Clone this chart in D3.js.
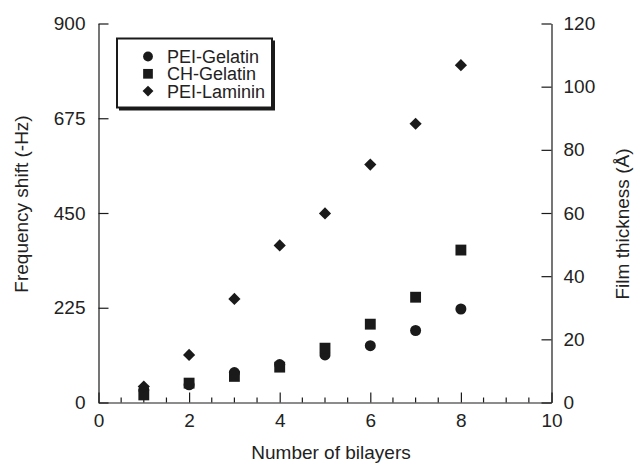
<!DOCTYPE html>
<html><head><meta charset="utf-8">
<script src="https://cdn.jsdelivr.net/npm/d3@7"></script>
<style>body{margin:0;background:#fff}svg{display:block}text{font-family:"Liberation Sans",Arial,sans-serif;fill:#222}</style>
</head><body><svg id="c" width="634" height="467"></svg>
<script>
const bilayers = [1,2,3,4,5,6,7,8];
const peiGelatin = [30,42,71,90,113,135,171,222];
const chGelatin = [18,46,62,84,129,186,250,362];
const peiLaminin = [38,113,246,373,449,565,662,801];
const xTicks = [0,2,4,6,8,10];
const yLeftTicks = [0,225,450,675,900];
const yRightTicks = [0,20,40,60,80,100,120];
const seriesNames = ["PEI-Gelatin","CH-Gelatin","PEI-Laminin"];

const svg = d3.select("#c");
const x = d3.scaleLinear().domain([0,10]).range([98.5,551.5]);
const y = d3.scaleLinear().domain([0,900]).range([402.5,23.5]);
const yR = d3.scaleLinear().domain([0,120]).range([402.5,23.5]);
const col = "#1a1a1a";
const FS = 19;

const gx = svg.append("g").attr("transform","translate(0,402.5)")
  .call(d3.axisBottom(x).tickValues(xTicks).tickSize(-10).tickPadding(11).tickSizeOuter(0));
gx.append("g").selectAll("line").data(d3.range(0,10.01,0.5).filter(v=>v%2!==0))
  .join("line").attr("x1",d=>x(d)).attr("x2",d=>x(d)).attr("y1",0).attr("y2",-5).attr("stroke",col);
const gl = svg.append("g").attr("transform","translate(98.5,0)")
  .call(d3.axisLeft(y).tickValues(yLeftTicks).tickSize(-10).tickPadding(13).tickSizeOuter(0));
const gr = svg.append("g").attr("transform","translate(551.5,0)")
  .call(d3.axisRight(yR).tickValues(yRightTicks).tickSize(-10).tickPadding(12).tickSizeOuter(0));
[gx,gl,gr].forEach(g=>{
  g.selectAll("path,line").attr("stroke",col).attr("stroke-width",1.2);
  g.selectAll("text").attr("font-size",FS).style("font-family","Liberation Sans, Arial, sans-serif").attr("fill","#222");
});
gx.selectAll(".tick text").attr("dy","0.71em");

svg.append("text").attr("x",331).attr("y",459).attr("text-anchor","middle").attr("font-size",FS).text("Number of bilayers");
svg.append("text").attr("transform","translate(28,204) rotate(-90)").attr("text-anchor","middle").attr("font-size",FS).text("Frequency shift (-Hz)");
svg.append("text").attr("transform","translate(629,224) rotate(-90)").attr("text-anchor","middle").attr("font-size",FS).text("Film thickness (Å)");

const sym = [d3.symbolCircle, d3.symbolSquare, d3.symbolSquare];
const sizes = [95, 118, 74];
const rot = [0,0,45];
const data = [peiGelatin, chGelatin, peiLaminin];
data.forEach((vals,i)=>{
  svg.append("g").selectAll("path").data(bilayers)
    .join("path")
    .attr("d", d3.symbol().type(sym[i]).size(sizes[i]))
    .attr("transform",(d,j)=>`translate(${x(d)},${y(vals[j])}) rotate(${rot[i]})`)
    .attr("fill",col);
});

const lg = svg.append("g");
lg.append("rect").attr("x",119).attr("y",40.5).attr("width",156).attr("height",70).attr("fill",col);
lg.append("rect").attr("x",117).attr("y",38.5).attr("width",155).attr("height",69).attr("fill","#fff").attr("stroke",col).attr("stroke-width",2);
seriesNames.forEach((n,i)=>{
  const yy = 56.5 + i*17.3;
  lg.append("path").attr("d", d3.symbol().type(sym[i]).size(sizes[i]*0.8)).attr("transform",`translate(148,${yy}) rotate(${rot[i]})`).attr("fill",col);
  lg.append("text").attr("x",167).attr("y",yy).attr("dy","0.36em").attr("font-size",18).text(n);
});
</script></body></html>
